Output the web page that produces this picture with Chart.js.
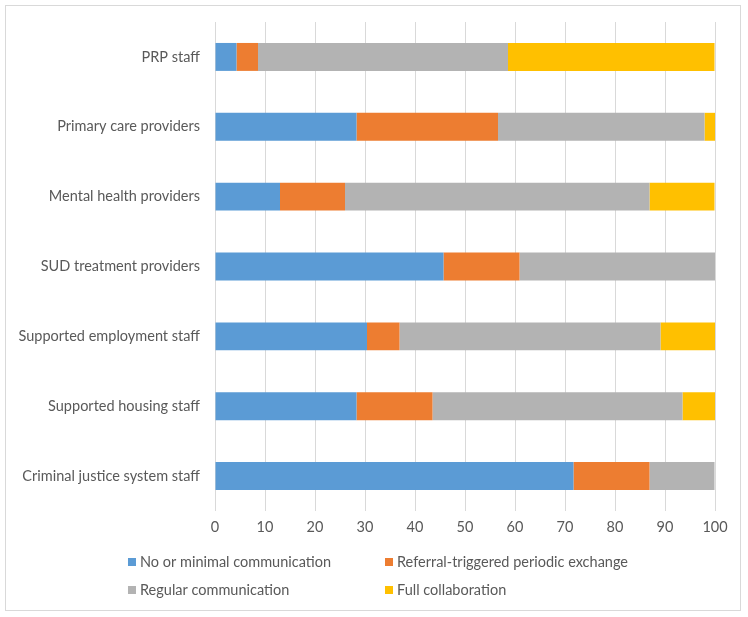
<!DOCTYPE html>
<html>
<head>
<meta charset="utf-8">
<script src="https://cdn.jsdelivr.net/npm/chart.js@4/dist/chart.umd.min.js"></script>
<style>
  html, body { margin: 0; padding: 0; background: #fff; }
  #wrap {
    position: absolute; left: 5px; top: 5px;
    width: 734px; height: 604px;
    border: 1px solid #d9d9d9;
  }
</style>
</head>
<body>
<div id="wrap"><canvas id="chart"></canvas></div>
<script>
// categories, top to bottom
const categories = [
    'PRP staff',
    'Primary care providers',
    'Mental health providers',
    'SUD treatment providers',
    'Supported employment staff',
    'Supported housing staff',
    'Criminal justice system staff'
];

// percent of respondents per category
const noMinimal   = [4.3, 28.3, 13.0, 45.7, 30.4, 28.3, 71.7];
const referral    = [4.3, 28.3, 13.0, 15.2,  6.5, 15.2, 15.2];
const regular     = [50.0, 41.3, 60.9, 39.1, 52.2, 50.0, 13.0];
const fullCollab  = [41.3,  2.2, 13.0,  0.0, 10.9,  6.5,  0.0];

const seriesNames = [
    'No or minimal communication',
    'Referral-triggered periodic exchange',
    'Regular communication',
    'Full collaboration'
];

const xTicks = [0, 10, 20, 30, 40, 50, 60, 70, 80, 90, 100];

const colors = ['#5B9BD5', '#ED7D31', '#B3B3B3', '#FFC000'];
const textColor = '#595959';
const fontFamily = 'Lato, "Open Sans", sans-serif';

// Excel-style two-column legend drawn under the axis
const columnLegend = {
    id: 'columnLegend',
    afterDraw(chart) {
        const ctx = chart.ctx;
        const items = chart.data.datasets;
        ctx.save();
        ctx.font = '14.5px ' + fontFamily;
        ctx.textBaseline = 'middle';
        const box = 8, gap = 4;
        let maxText = 0;
        items.forEach(d => { maxText = Math.max(maxText, ctx.measureText(d.label).width); });
        const slot = box + gap + maxText + 14;
        const startX = chart.width / 2 + 12 - slot;
        const rowY = [556, 584];
        items.forEach((d, i) => {
            const x = startX + (i % 2) * slot;
            const y = rowY[Math.floor(i / 2)];
            ctx.fillStyle = d.backgroundColor;
            ctx.fillRect(x, y - box / 2, box, box);
            ctx.fillStyle = textColor;
            ctx.fillText(d.label, x + box + gap, y);
        });
        ctx.restore();
    }
};

const seriesValues = [noMinimal, referral, regular, fullCollab];

new Chart(document.getElementById('chart'), {
    type: 'bar',
    data: {
        labels: categories,
        datasets: seriesNames.map((name, i) => ({
            label: name,
            data: seriesValues[i],
            backgroundColor: colors[i],
            borderWidth: 0,
            barPercentage: 0.4,
            categoryPercentage: 1
        }))
    },
    options: {
        indexAxis: 'y',
        responsive: true,
        maintainAspectRatio: false,
        animation: false,
        layout: { padding: { top: 16, right: 25, bottom: 69, left: 0 } },
        plugins: {
            legend: { display: false },
            tooltip: { enabled: false }
        },
        scales: {
            x: {
                stacked: true,
                min: 0,
                max: 100,
                afterBuildTicks: (axis) => { axis.ticks = xTicks.map(v => ({ value: v })); },
                afterFit: (axis) => { axis.height = 30; },
                grid: { color: '#d9d9d9', drawTicks: false },
                border: { display: false },
                ticks: {
                    color: textColor,
                    padding: 8,
                    font: { family: fontFamily, size: 14.5 }
                }
            },
            y: {
                stacked: true,
                // fixed label column; no extra label overflow at top/bottom
                afterFit: (axis) => {
                    axis.width = 209;
                    axis.paddingTop = 0;
                    axis.paddingBottom = 0;
                },
                grid: { display: false },
                border: { display: false },
                ticks: {
                    color: textColor,
                    padding: 7,
                    font: { family: fontFamily, size: 14.5 }
                }
            }
        }
    },
    plugins: [columnLegend]
});
</script>
</body>
</html>
